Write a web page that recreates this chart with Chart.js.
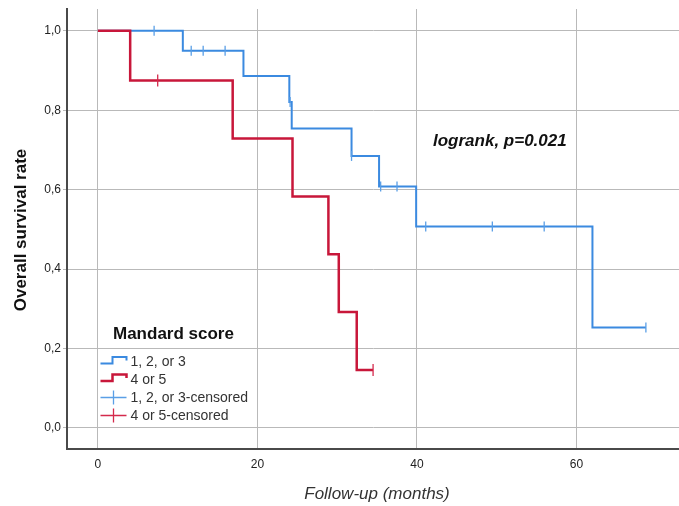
<!DOCTYPE html>
<html>
<head>
<meta charset="utf-8">
<script src="https://cdn.jsdelivr.net/npm/chart.js@4"></script>
<style>
  html, body { margin: 0; padding: 0; background: #ffffff; }
  #wrap { width: 679px; height: 506px; }
</style>
</head>
<body>
<div id="wrap"><canvas id="c" width="679" height="506"></canvas></div>
<script>
// ---- data ----
const groupLabels = ["1, 2, or 3", "4 or 5", "1, 2, or 3-censored", "4 or 5-censored"];
const legendTitle = "Mandard score";

const blueTimes = [0, 10.65, 18.25, 24.0, 24.3, 31.8, 35.25, 39.9, 62.0, 68.7];
const blueSurv  = [1.0, 0.950, 0.886, 0.821, 0.754, 0.685, 0.608, 0.507, 0.253, 0.253];
const blueCensorTimes = [7.05, 11.7, 13.2, 15.95, 24.1, 31.8, 35.45, 37.5, 41.1, 49.45, 55.95, 68.7];
const blueCensorSurv  = [1.0, 0.950, 0.950, 0.950, 0.821, 0.685, 0.608, 0.608, 0.507, 0.507, 0.507, 0.253];

const redTimes = [0, 4.05, 16.9, 24.4, 28.9, 30.2, 32.45, 34.5];
const redSurv  = [1.0, 0.875, 0.729, 0.583, 0.4375, 0.292, 0.146, 0.146];
const redCensorTimes = [7.5, 34.5];
const redCensorSurv  = [0.875, 0.146];

const xTickValues = [0, 20, 40, 60];
const yTickValues = [0, 0.2, 0.4, 0.6, 0.8, 1.0];

const xTitle = "Follow-up (months)";
const yTitle = "Overall survival rate";
const testNote = "logrank, p=0.021";

// ---- styling ----
const BLUE = "#3b8ae0";
const BLUE_C = "#5a9fe6";
const RED = "#c8173a";
const RED_C = "#d42a4c";
const FONT = "'Liberation Sans', Arial, sans-serif";

const pts = (xs, ys) => xs.map((x, i) => ({ x: x, y: ys[i] }));

const annotations = {
  id: 'annotations',
  afterDraw(chart) {
    const ctx = chart.ctx;
    ctx.save();
    // y axis title
    ctx.fillStyle = "#111";
    ctx.font = "bold 17px " + FONT;
    ctx.textAlign = "center";
    ctx.textBaseline = "middle";
    ctx.translate(21, 230);
    ctx.rotate(-Math.PI / 2);
    ctx.fillText(yTitle, 0, 0);
    ctx.restore();

    ctx.save();
    ctx.fillStyle = "#333";
    ctx.font = "italic 17px " + FONT;
    ctx.textAlign = "center";
    ctx.textBaseline = "middle";
    ctx.fillText(xTitle, 377, 494);

    // logrank note
    ctx.fillStyle = "#111";
    ctx.font = "bold italic 17px " + FONT;
    ctx.textAlign = "left";
    ctx.fillText(testNote, 433, 141);

    // legend
    ctx.font = "bold 17px " + FONT;
    ctx.fillStyle = "#111";
    ctx.fillText(legendTitle, 113, 334);

    ctx.font = "14px " + FONT;
    ctx.fillStyle = "#333";
    const rows = [362, 379.5, 397.5, 415.5];
    const x0 = 100.5, xm = 112.5, x1 = 126.5;
    // series step symbols
    [[BLUE, 2], [RED, 2.5]].forEach((c, i) => {
      const y = rows[i];
      ctx.strokeStyle = c[0];
      ctx.lineWidth = c[1];
      ctx.beginPath();
      ctx.moveTo(x0, y + 1.5);
      ctx.lineTo(xm, y + 1.5);
      ctx.lineTo(xm, y - 5);
      ctx.lineTo(x1, y - 5);
      ctx.lineTo(x1, y - 1.5);
      ctx.stroke();
    });
    // censored symbols
    [BLUE_C, RED_C].forEach((c, i) => {
      const y = rows[i + 2];
      ctx.strokeStyle = c;
      ctx.lineWidth = 1.3;
      ctx.beginPath();
      ctx.moveTo(x0, y);
      ctx.lineTo(x1, y);
      ctx.moveTo(113.5, y - 7);
      ctx.lineTo(113.5, y + 7);
      ctx.stroke();
    });
    ctx.fillStyle = "#333";
    groupLabels.forEach((t, i) => ctx.fillText(t, 130.5, rows[i] + 0.5));
    ctx.restore();
  }
};

new Chart(document.getElementById('c'), {
  type: 'line',
  data: {
    datasets: [
      { label: groupLabels[1], data: pts(redTimes, redSurv), stepped: 'before',
        borderColor: RED, borderWidth: 2.5, pointRadius: 0, fill: false, order: 1 },
      { label: groupLabels[0], data: pts(blueTimes, blueSurv), stepped: 'before',
        borderColor: BLUE, borderWidth: 2, pointRadius: 0, fill: false, order: 2 },
      { label: groupLabels[3], type: 'scatter', data: pts(redCensorTimes, redCensorSurv),
        pointStyle: 'line', rotation: 90, pointRadius: 6, borderColor: RED_C, borderWidth: 1.3,
        showLine: false, order: 0 },
      { label: groupLabels[2], type: 'scatter', data: pts(blueCensorTimes, blueCensorSurv),
        pointStyle: 'line', rotation: 90, pointRadius: 5, borderColor: BLUE_C, borderWidth: 1.3,
        showLine: false, order: 0 }
    ]
  },
  options: {
    responsive: false,
    animation: false,
    events: [],
    layout: { autoPadding: false, padding: { top: 9, right: 0, left: 0, bottom: 0 } },
    plugins: { legend: { display: false }, tooltip: { enabled: false } },
    scales: {
      x: {
        type: 'linear',
        min: -3.87, max: 72.85,
        afterFit(s) { s.height = 57; s.paddingLeft = 0; s.paddingRight = 0; },
        afterBuildTicks(s) { s.ticks = xTickValues.map(v => ({ value: v })); },
        grid: { color: '#b9b9b9', lineWidth: 1, drawTicks: false },
        border: { display: true, color: '#4a4a4a', width: 2 },
        ticks: { color: '#222', font: { family: FONT, size: 12 }, padding: 8,
                 callback: v => String(v) }
      },
      y: {
        type: 'linear',
        min: -0.053, max: 1.055,
        afterFit(s) { s.width = 67; s.paddingTop = 0; s.paddingBottom = 0; },
        afterBuildTicks(s) { s.ticks = yTickValues.map(v => ({ value: v })); },
        grid: { color: '#b9b9b9', lineWidth: 1, drawTicks: true, tickLength: 4 },
        border: { display: true, color: '#4a4a4a', width: 2 },
        ticks: { color: '#222', font: { family: FONT, size: 12 }, padding: 2,
                 callback: v => Number(v).toFixed(1).replace('.', ',') }
      }
    }
  },
  plugins: [annotations]
});
</script>
</body>
</html>
